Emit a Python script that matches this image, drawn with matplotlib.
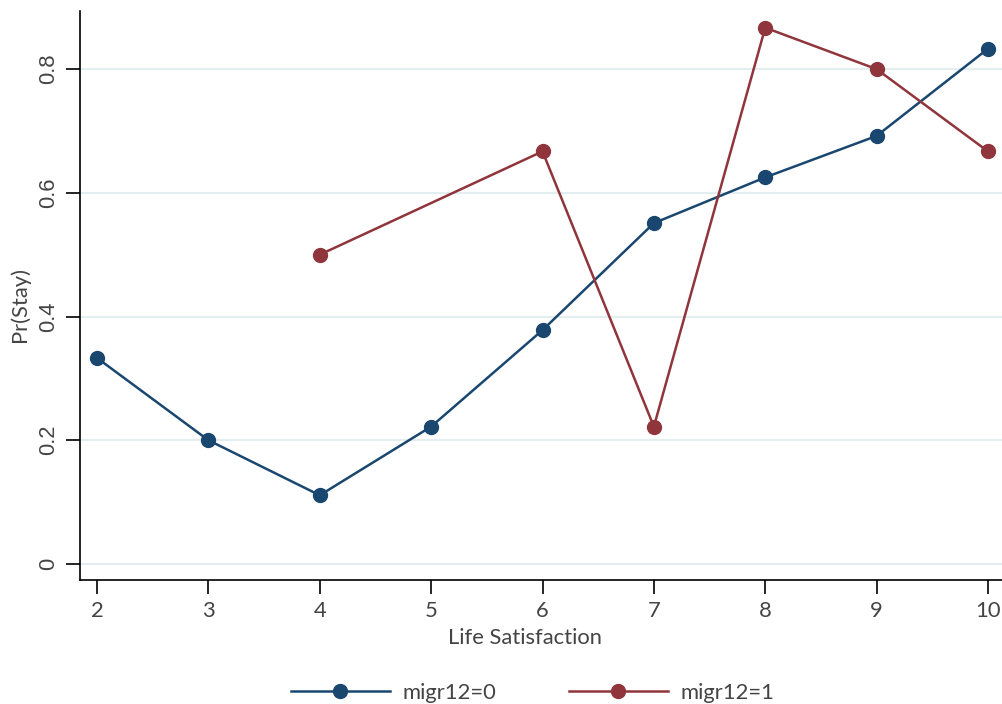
import matplotlib
matplotlib.use("Agg")
import matplotlib.pyplot as plt
from matplotlib.lines import Line2D

# Data
x_migr0 = [2, 3, 4, 5, 6, 7, 8, 9, 10]
y_migr0 = [0.333, 0.2, 0.111, 0.222, 0.378, 0.551, 0.625, 0.692, 0.833]
x_migr1 = [4, 6, 7, 8, 9, 10]
y_migr1 = [0.5, 0.667, 0.222, 0.867, 0.8, 0.667]
xticks = [2, 3, 4, 5, 6, 7, 8, 9, 10]
yticks = [0, 0.2, 0.4, 0.6, 0.8]
ytick_labels = ["0", "0.2", "0.4", "0.6", "0.8"]
labels = ["migr12=0", "migr12=1"]

blue = "#1a476f"
red = "#90353b"
txt = "#444444"

plt.rcParams['font.family'] = ['Lato', 'DejaVu Sans']

fig = plt.figure(figsize=(10.02, 7.04), dpi=100)
ax = fig.add_axes([80/1002, 1 - 580/704, (1002-80)/1002, (580-11)/704])

ax.plot(x_migr0, y_migr0, color=blue, lw=1.8, marker='o', ms=10, zorder=3)
ax.plot(x_migr1, y_migr1, color=red, lw=1.8, marker='o', ms=10, zorder=3)

ax.set_xlim(1.847, 10.126)
ax.set_ylim(-0.026, 0.894)
ax.set_xticks(xticks)
ax.set_yticks(yticks)
ax.set_yticklabels(ytick_labels, rotation=90, va='center', family=['Liberation Sans'])
ax.grid(axis='y', color='#e3eef0', lw=1.5, zorder=0)
ax.set_axisbelow(True)
for s in ['top', 'right']:
    ax.spines[s].set_visible(False)
for s in ['left', 'bottom']:
    ax.spines[s].set_color('black')
    ax.spines[s].set_linewidth(1.2)
ax.tick_params(axis='both', direction='out', length=10, width=1.2, color='black',
               labelcolor=txt, labelsize=15.8)
ax.tick_params(axis='x', pad=5)
ax.tick_params(axis='y', pad=5)
ax.set_xlabel("Life Satisfaction", fontsize=15.8, color=txt)
ax.set_ylabel("Pr(Stay)", fontsize=15.8, color=txt)
ax.xaxis.set_label_coords(0.483, -0.085)
ax.yaxis.set_label_coords(-0.054, 0.485)

handles = [Line2D([0], [0], color=blue, lw=1.8, marker='o', ms=10),
           Line2D([0], [0], color=red, lw=1.8, marker='o', ms=10)]
fig.legend(handles, labels, loc='center left', bbox_to_anchor=(291/1002, 1 - 693/704),
           ncol=2, frameon=False, fontsize=15.8, handlelength=4.5, columnspacing=3.3,
           labelcolor=txt, handletextpad=0.6, borderaxespad=0, borderpad=0)

fig.savefig("out.png", dpi=100)
